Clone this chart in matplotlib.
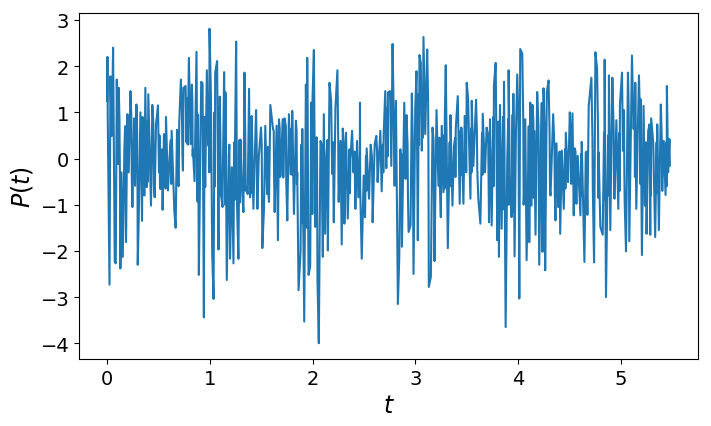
import numpy as np
import matplotlib
matplotlib.use('Agg')
import matplotlib.pyplot as plt

# values: turning points whose tips stick out of the band
t_vals = [
    0.000, 0.003, 0.006, 0.023, 0.032, 0.045, 0.058, 0.074, 0.084, 0.094, 0.104, 0.113,
    0.129, 0.139, 0.152, 0.168, 0.184, 0.197, 0.210, 0.227, 0.246, 0.262, 0.272, 0.285,
    0.298, 0.307, 0.324, 0.340, 0.353, 0.362, 0.372, 0.385, 0.401, 0.427, 0.440, 0.463,
    0.476, 0.495, 0.505, 0.518, 0.534, 0.540, 0.553, 0.573, 0.592, 0.612, 0.628, 0.654,
    0.667, 0.680, 0.696, 0.702, 0.718, 0.738, 0.744, 0.764, 0.773, 0.796, 0.812, 0.825,
    0.835, 0.851, 0.870, 0.880, 0.893, 0.916, 0.929, 0.942, 0.955, 0.971, 0.984, 0.997,
    1.010, 1.023, 1.036, 1.052, 1.071, 1.084, 1.097, 1.110, 1.123, 1.139, 1.152, 1.165,
    1.184, 1.197, 1.214, 1.230, 1.243, 1.256, 1.265, 1.278, 1.298, 1.311, 1.327, 1.337,
    1.353, 1.369, 1.382, 1.392, 1.408, 1.424, 1.450, 1.463, 1.476, 1.498, 1.511, 1.527,
    1.540, 1.557, 1.576, 1.589, 1.615, 1.631, 1.650, 1.663, 1.673, 1.689, 1.709, 1.715,
    1.728, 1.754, 1.770, 1.786, 1.802, 1.819, 1.838, 1.851, 1.864,
    1.883, 1.900, 1.919, 1.935, 1.948, 1.961, 1.977, 1.987, 2.000, 2.013, 2.026, 2.039,
    2.048, 2.061, 2.077, 2.100, 2.110, 2.123, 2.136, 2.149, 2.165, 2.181, 2.191, 2.207,
    2.223, 2.242, 2.255, 2.272, 2.284, 2.294, 2.310, 2.326, 2.343, 2.369, 2.385, 2.398,
    2.417, 2.433, 2.446, 2.462, 2.479, 2.498, 2.511, 2.527, 2.550, 2.566, 2.585, 2.605,
    2.621, 2.634, 2.660, 2.673, 2.692, 2.708, 2.718, 2.734, 2.754, 2.767, 2.779, 2.799,
    2.812, 2.831, 2.844, 2.864, 2.870, 2.893, 2.906, 2.915, 2.935, 2.954, 2.967, 2.983,
    3.000, 3.012, 3.025, 3.041, 3.054, 3.064, 3.080, 3.097, 3.116, 3.132, 3.152, 3.168,
    3.187, 3.207, 3.226, 3.249, 3.258, 3.275, 3.288, 3.297, 3.317, 3.343, 3.362, 3.378,
    3.394, 3.414, 3.433, 3.449, 3.469, 3.482, 3.501, 3.514, 3.537, 3.550, 3.566, 3.592,
    3.614, 3.634, 3.657, 3.679, 3.695, 3.718, 3.728, 3.744, 3.766, 3.783, 3.799, 3.815,
    3.825, 3.841, 3.864, 3.880, 3.896, 3.909, 3.922, 3.938, 3.955, 3.967, 3.980, 3.993,
    4.013, 4.022, 4.042, 4.058, 4.071, 4.084, 4.100, 4.110, 4.120, 4.132, 4.142, 4.158,
    4.171, 4.187, 4.207, 4.229, 4.239, 4.249, 4.265, 4.281, 4.298, 4.317, 4.343, 4.365,
    4.375, 4.391, 4.411, 4.427, 4.446, 4.466, 4.488, 4.505, 4.531, 4.543, 4.553, 4.569,
    4.582, 4.608, 4.621, 4.647, 4.660, 4.676, 4.689, 4.715, 4.741, 4.754, 4.770, 4.786,
    4.802, 4.825, 4.844, 4.857, 4.886, 4.899, 4.919, 4.941, 4.958, 4.977, 4.993, 5.013,
    5.022, 5.039, 5.052, 5.071, 5.084, 5.110, 5.126, 5.142, 5.152, 5.178, 5.194, 5.207,
    5.223, 5.236, 5.252, 5.268, 5.281, 5.288, 5.297, 5.317, 5.336, 5.356, 5.372, 5.391,
    5.407, 5.420, 5.437, 5.450, 5.462, 5.475, 5.479,
]
p_vals = [
    1.25, 2.20, 0.85, -2.73, 1.78, 0.49, 2.40, -2.24, -2.27, 1.71, -0.12, 1.53,
    -2.38, -0.30, -2.13, 0.22, -1.81, 0.96, -0.30, 1.46, -1.05, 0.87, -0.59, 1.17,
    -2.30, -1.38, 1.00, -1.35, 0.33, -0.80, 1.53, -0.62, 1.39, -1.02, 1.16, -0.84,
    0.74, 1.15, -0.30, -0.66, 0.20, -1.11, 0.53, 0.90, -0.69, 0.20, 0.60, -1.12,
    -1.50, 0.62, -0.60, 0.78, 1.71, -0.26, 1.53, 1.57, 0.35, 2.18, 0.31, 1.60,
    0.20, -0.49, 2.31, -0.93, -2.52, 1.66, 1.63, -3.44, -0.62, 1.91, 0.28, 2.81,
    1.43, -2.06, -3.04, 1.86, 2.11, -1.97, 1.34, -0.80, -1.05, 1.87, 1.43, -2.63,
    0.08, -2.17, -0.19, -2.27, -0.05, 2.53, -1.02, -2.17, 0.41, -0.59, -1.16, 1.86,
    -0.62, -0.77, 1.51, -0.84, 0.92, -1.09, 1.05, -1.09, 0.02, 0.67, -1.94, -1.09,
    0.71, -0.77, -0.94, 1.16, 0.64, -1.16, 0.71, -1.77, 0.85, -0.37, 0.85, -0.41,
    0.87, -1.34, 0.96, -0.34, 1.03, -1.20, 0.82, -0.30, -2.85,
    -2.02, 0.64, -3.53, 1.60, 2.18, -2.52, -2.34, 1.21, 1.32, 2.35, -1.48, 0.46,
    -2.63, -4.00, 0.38, -2.13, 0.96, -1.63, 0.06, -1.99, 1.64, 1.25, -0.33, -1.38,
    1.10, 1.91, -0.94, 0.38, -1.86, 0.65, -1.41, 0.56, -1.30, -0.01, 0.60, -0.30,
    -1.09, 0.38, -0.84, 1.21, -2.17, -0.37, -1.27, 0.22, -0.87, 0.30, -1.38, 0.31,
    0.49, -0.51, 0.60, -0.71, 0.49, 1.46, -0.21, 1.43, 1.46, -0.16, 2.48, -0.59,
    1.25, -3.15, -2.17, 0.10, -1.91, 1.21, -0.44, 0.94, -1.59, -1.45, 1.41, -2.50,
    1.10, 1.89, -1.77, 2.24, 2.07, 0.17, 2.63, 0.53, 2.36, -2.78, -2.56, 0.67,
    -2.22, 1.05, -0.59, -1.27, 0.71, -0.73, 0.90, 2.02, -1.94, 0.94, -1.02, 0.28,
    0.64, 1.35, -0.98, 0.67, -0.98, 0.92, 1.64, 1.32, -0.87, 1.25, -0.16, 1.27,
    -0.87, -1.41, 0.97, -0.30, 0.67, -1.38, 0.85, -1.45, 1.58, 2.07, -1.77, -2.13,
    1.16, -1.52, 1.66, -3.65, -0.01, 1.91, -0.69, -1.27, 1.40, -2.12, 0.53, 1.82,
    -3.03, 2.37, 2.27, -0.91, 0.85, -2.20, -0.23, -1.81, 1.21, -1.02, 1.16, 0.60,
    -1.65, 1.44, -2.30, 1.20, -2.02, 1.52, -2.42, 1.44, 1.69, -0.80, 0.96, -1.34,
    0.33, -1.05, -1.63, 0.17, -1.09, 0.56, -0.51, 1.00, 0.98, -1.23, 0.22, -0.98,
    0.06, -1.23, 0.36, -2.24, 0.13, -1.22, 1.14, 1.75, -2.25, 2.30, 1.96, 0.13,
    -1.48, -1.65, 2.14, -3.00, 1.80, -1.55, 1.75, -0.87, 0.83, -1.09, 1.17, 1.86,
    0.17, -0.94, -2.01, 1.86, -1.79, 2.23, 0.64, 1.64, -1.09, 1.80, 1.28, -2.09,
    1.14, -1.02, -1.63, 0.60, 0.74, -1.65, 0.87, 0.35, -1.70, 0.74, -1.55, 1.17,
    -0.41, 0.38, -0.79, 1.57, -0.30, 0.42, -0.15,
]

# smaller swings hidden inside the solid band, estimated from its upper and lower edges
t_band = [
    0.120, 0.125, 0.175, 0.180, 0.235, 0.240, 0.292, 0.296, 0.345, 0.350, 0.392, 0.396,
    0.450, 0.455, 0.510, 0.514, 0.565, 0.569, 0.620, 0.624, 0.688, 0.692, 0.728, 0.733,
    0.780, 0.785, 0.830, 0.833, 0.885, 0.888, 0.948, 0.952, 0.990, 0.994, 1.045, 1.049,
    1.090, 1.094, 1.145, 1.149, 1.190, 1.194, 1.236, 1.240, 1.288, 1.292, 1.345, 1.349,
    1.400, 1.404, 1.456, 1.460, 1.505, 1.508, 1.565, 1.569, 1.622, 1.626, 1.680, 1.684,
    1.740, 1.744, 1.795, 1.799, 1.845, 1.848, 1.892, 1.896, 1.942, 1.945, 1.995, 1.998,
    2.043, 2.046, 2.090, 2.094, 2.145, 2.148, 2.200, 2.204, 2.250, 2.253, 2.305, 2.308,
    2.360, 2.364, 2.410, 2.414, 2.460, 2.464, 2.520, 2.524, 2.578, 2.582, 2.628, 2.632,
    2.685, 2.689, 2.728, 2.731, 2.790, 2.794, 2.855, 2.859, 2.925, 2.929, 2.975, 2.979,
    3.034, 3.037, 3.072, 3.075, 3.125, 3.128, 3.178, 3.182, 3.235, 3.239, 3.282, 3.285,
    3.335, 3.339, 3.388, 3.391, 3.442, 3.445, 3.492, 3.496, 3.545, 3.548, 3.600, 3.604,
    3.650, 3.654, 3.710, 3.714, 3.760, 3.763, 3.808, 3.811, 3.855, 3.859, 3.905, 3.908,
    3.948, 3.952, 4.005, 4.009, 4.052, 4.055, 4.105, 4.108, 4.150, 4.153, 4.200, 4.204,
    4.258, 4.261, 4.308, 4.312, 4.355, 4.359, 4.405, 4.408, 4.458, 4.462, 4.515, 4.518,
    4.560, 4.564, 4.615, 4.619, 4.668, 4.672, 4.725, 4.729, 4.780, 4.784, 4.838, 4.841,
    4.878, 4.882, 4.932, 4.936, 4.985, 4.989, 5.032, 5.036, 5.078, 5.081, 5.135, 5.139,
    5.188, 5.191, 5.246, 5.249, 5.292, 5.295, 5.350, 5.353, 5.402, 5.405, 5.445, 5.448,
]
p_band = [
    0.85, -0.55, 0.70, -0.60, 0.95, -0.40, 0.60, -0.80, 0.90, -0.70, 0.80, -0.50,
    0.75, -0.60, 0.50, -0.50, 0.45, -0.65, 0.40, -0.55, 0.30, -0.55, 1.10, 0.10,
    1.30, 0.30, 1.20, 0.05, 0.95, -0.10, 0.90, -0.20, 1.20, -0.30, 1.00, -0.60,
    1.10, -0.80, 0.80, -1.00, 0.30, -1.10, 0.35, -0.90, 0.40, -0.95, 0.45, -0.70,
    0.40, -0.75, 0.35, -0.80, 0.30, -0.85, 0.25, -0.70, 0.60, -0.45, 0.65, -0.40,
    0.70, -0.50, 0.65, -0.35, 0.60, -0.55, 0.30, -1.40, 0.55, -1.50, 0.45, -1.20,
    0.35, -1.30, 0.30, -1.10, 0.40, -0.95, 0.35, -0.90, 0.40, -0.85, 0.30, -0.80,
    0.20, -0.75, 0.15, -0.70, 0.10, -0.65, 0.05, -0.70, 0.05, -0.60, 0.15, -0.45,
    0.30, -0.30, 1.10, 0.05, 1.00, 0.10, 0.20, -0.90, 0.30, -0.85, 0.45, -0.95,
    1.40, 0.30, 1.50, 0.45, 1.30, 0.20, 0.40, -0.60, 0.45, -0.55, 0.50, -0.65,
    0.35, -0.60, 0.45, -0.40, 0.60, -0.35, 0.70, -0.30, 0.65, -0.30, 0.60, -0.25,
    0.55, -0.35, 0.50, -0.40, 0.90, -0.60, 0.80, -1.00, 0.90, -1.10, 0.85, -1.00,
    0.95, -1.15, 0.80, -1.10, 0.75, -1.00, 0.70, -0.90, 0.80, -0.85, 0.70, -0.95,
    0.75, -0.85, 0.55, -0.70, 0.25, -0.75, 0.15, -0.80, 0.20, -0.65, 0.25, -0.55,
    0.15, -0.70, 0.10, -0.80, 0.15, -0.75, 0.45, -0.70, 0.60, -0.85, 0.55, -0.90,
    0.50, -0.80, 0.60, -0.85, 0.55, -0.70, 1.05, -0.35, 1.10, -0.30, 1.15, -0.40,
    0.90, -0.55, 0.35, -0.75, 0.40, -0.80, 0.35, -0.75, 0.30, -0.70, 0.35, -0.60,
]

t_all = np.array(t_vals + t_band)
p_all = np.array(p_vals + p_band)
order = np.argsort(t_all)

fig, ax = plt.subplots(figsize=(7.11, 4.27), dpi=100)
fig.subplots_adjust(left=79 / 711, right=698 / 711, top=1 - 14 / 427, bottom=1 - 360 / 427)

ax.plot(t_all[order], p_all[order])
ax.set_xlabel('$t$', fontsize=17)
ax.set_ylabel('$P(t)$', fontsize=17)
ax.tick_params(labelsize=14)

fig.savefig('out.png', dpi=100)
